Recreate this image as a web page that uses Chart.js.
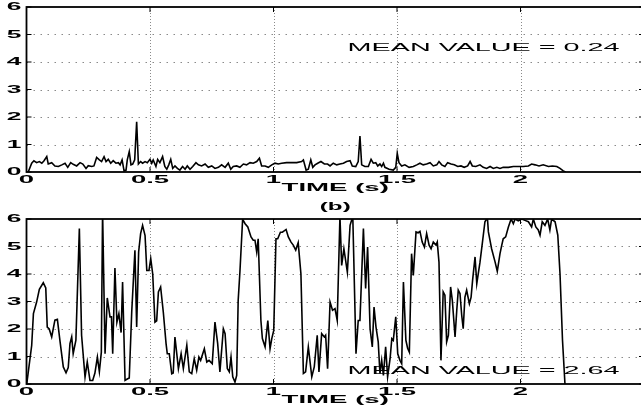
<!DOCTYPE html>
<html lang="en">
<head>
<meta charset="UTF-8">
<title>Time series (a) and (b)</title>
<script src="https://cdn.jsdelivr.net/npm/chart.js"></script>
<style>
  html, body { margin: 0; padding: 0; background: #fff; overflow: hidden; }
  #wrap { position: relative; width: 641px; height: 409px; overflow: hidden; }
  canvas { position: absolute; left: 0; }
</style>
</head>
<body>
<div id="wrap">
  <canvas id="chartA" width="645" height="198" style="top:0;width:645px;height:198px"></canvas>
  <canvas id="chartB" width="645" height="211" style="top:198px;width:645px;height:211px"></canvas>
</div>
<script>
// ---- data ----
const xTicks = [0, 0.5, 1, 1.5, 2];
const xTickLabels = ['0', '0.5', '1', '1.5', '2'];
const yTicks = [0, 1, 2, 3, 4, 5, 6];
const yTickLabels = ['0', '1', '2', '3', '4', '5', '6'];

// panel (a)
const timeA = [0.007,0.021,0.030,0.041,0.052,0.062,0.071,0.082,0.088,0.102,0.115,0.129,0.143,0.156,0.167,0.179,0.189,0.203,0.217,0.228,
  0.241,0.250,0.264,0.273,0.284,0.295,0.304,0.314,0.322,0.331,0.341,0.351,0.362,0.372,0.379,0.387,0.395,0.403,0.408,0.416,
  0.423,0.430,0.438,0.446,0.453,0.462,0.470,0.480,0.489,0.500,0.507,0.513,0.524,0.531,0.540,0.551,0.560,0.568,0.576,0.584,
  0.592,0.601,0.611,0.621,0.632,0.642,0.651,0.662,0.673,0.686,0.696,0.709,0.723,0.736,0.750,0.763,0.777,0.790,0.804,0.817,
  0.827,0.837,0.851,0.864,0.878,0.891,0.905,0.918,0.932,0.943,0.952,0.966,0.979,0.993,1.006,1.019,1.033,1.053,1.074,1.094,
  1.114,1.121,1.132,1.141,1.151,1.159,1.168,1.179,1.192,1.206,1.219,1.229,1.242,1.256,1.269,1.283,1.296,1.310,1.319,1.333,
  1.343,1.350,1.357,1.370,1.384,1.395,1.404,1.414,1.422,1.431,1.438,1.445,1.451,1.468,1.485,1.495,1.501,1.508,1.519,1.532,
  1.549,1.566,1.580,1.593,1.606,1.620,1.634,1.647,1.661,1.670,1.681,1.694,1.705,1.719,1.732,1.746,1.759,1.772,1.786,1.796,
  1.805,1.819,1.836,1.849,1.863,1.877,1.890,1.904,1.917,1.930,1.951,1.971,1.991,2.011,2.032,2.045,2.059,2.075,2.092,2.113,
  2.129,2.147,2.160,2.173,2.183];
const valueA = [0,0.32,0.41,0.34,0.38,0.32,0.41,0.56,0.29,0.34,0.22,0.20,0.26,0.32,0.17,0.34,0.28,0.22,0.34,0.29,
  0.13,0.23,0.20,0.22,0.53,0.44,0.38,0.56,0.38,0.46,0.32,0.41,0.32,0.34,0.26,0.44,0.04,0.07,0.44,0.74,
  0.26,0.29,0.44,1.83,0.29,0.38,0.32,0.38,0.34,0.46,0.32,0.44,0.20,0.46,0.34,0.56,0.20,0.10,0.26,0.46,
  0.13,0.22,0.13,0.07,0.20,0.10,0.22,0.10,0.20,0.34,0.26,0.22,0.29,0.17,0.22,0.13,0.17,0.26,0.17,0.32,
  0.10,0.20,0.22,0.17,0.29,0.26,0.34,0.32,0.38,0.50,0.22,0.22,0.17,0.26,0.32,0.29,0.32,0.34,0.34,0.34,
  0.38,0.44,0.07,0.10,0.44,0.17,0.26,0.32,0.38,0.29,0.29,0.22,0.32,0.26,0.29,0.32,0.38,0.41,0.22,0.20,
  0.38,1.31,0.26,0.20,0.20,0.46,0.32,0.34,0.22,0.29,0.20,0.32,0.17,0.10,0.07,0.17,0.68,0.34,0.22,0.26,
  0.17,0.20,0.26,0.32,0.26,0.29,0.34,0.22,0.26,0.38,0.26,0.20,0.34,0.29,0.26,0.20,0.22,0.17,0.22,0.38,
  0.22,0.20,0.26,0.17,0.13,0.20,0.13,0.17,0.13,0.17,0.17,0.20,0.20,0.20,0.22,0.29,0.26,0.22,0.26,0.20,
  0.22,0.20,0.13,0.04,0];

// panel (b)
const timeB = [0.001,0.021,0.028,0.041,0.052,0.068,0.078,0.084,0.092,0.102,0.115,0.125,0.136,0.149,0.160,0.169,0.176,0.183,0.189,0.200,
  0.214,0.223,0.237,0.246,0.257,0.268,0.277,0.287,0.295,0.303,0.308,0.318,0.327,0.338,0.344,0.349,0.358,0.366,0.374,0.383,
  0.389,0.399,0.408,0.416,0.426,0.439,0.446,0.454,0.462,0.470,0.480,0.487,0.496,0.503,0.511,0.520,0.527,0.534,0.543,0.554,
  0.565,0.570,0.578,0.588,0.594,0.601,0.615,0.626,0.635,0.649,0.659,0.669,0.679,0.689,0.698,0.705,0.720,0.730,0.739,0.752,
  0.763,0.774,0.783,0.797,0.804,0.813,0.821,0.828,0.835,0.844,0.851,0.857,0.864,0.875,0.885,0.896,0.909,0.918,0.925,0.932,
  0.938,0.949,0.955,0.966,0.977,0.986,0.993,1.001,1.010,1.017,1.028,1.036,1.051,1.060,1.071,1.080,1.090,1.100,1.111,1.121,
  1.130,1.141,1.155,1.165,1.177,1.184,1.195,1.206,1.211,1.219,1.229,1.239,1.249,1.258,1.269,1.276,1.285,1.299,1.310,1.321,
  1.334,1.343,1.350,1.364,1.373,1.381,1.391,1.400,1.407,1.415,1.424,1.431,1.438,1.445,1.454,1.462,1.472,1.479,1.485,1.495,
  1.503,1.512,1.519,1.526,1.536,1.543,1.550,1.559,1.566,1.577,1.586,1.593,1.602,1.611,1.620,1.630,1.638,1.647,1.658,1.663,
  1.670,1.678,1.687,1.694,1.701,1.708,1.717,1.724,1.735,1.742,1.748,1.755,1.762,1.768,1.775,1.782,1.793,1.800,1.806,1.816,
  1.823,1.836,1.847,1.856,1.866,1.870,1.883,1.897,1.906,1.917,1.924,1.930,1.940,1.951,1.962,1.971,1.978,1.991,2.005,2.018,
  2.032,2.045,2.052,2.062,2.072,2.079,2.088,2.099,2.110,2.119,2.126,2.140,2.151,2.160,2.170,2.180];
const valueB = [0,1.40,2.56,2.98,3.44,3.68,3.49,2.07,2.00,1.71,2.32,2.35,1.53,0.62,0.41,0.60,1.47,1.71,1.10,1.59,
  5.65,1.77,0.25,0.80,0.13,0.13,0.40,0.98,0.45,1.16,6.30,1.10,3.13,2.44,2.44,1.10,4.22,2.25,2.56,1.87,
  3.71,0.13,0.18,0.22,2.62,4.86,2.07,4.80,5.47,5.77,5.40,4.13,4.13,4.56,4.00,2.25,2.30,3.35,3.53,2.60,
  1.47,1.10,1.10,0.37,0.40,1.71,0.56,1.10,0.56,1.41,0.44,0.38,0.92,0.50,0.98,0.86,1.28,0.80,0.86,0.74,
  2.25,1.47,0.44,2.01,1.83,0.56,0.44,0.98,0.26,0.07,0.31,3.04,4.07,5.99,5.83,5.71,5.35,5.23,5.23,4.80,
  5.28,2.31,1.65,1.35,2.31,1.28,1.65,1.95,5.28,5.28,5.52,5.52,5.62,5.35,5.16,5.05,4.87,5.14,4.01,0.38,
  0.44,1.35,0.26,0.62,1.77,0.44,1.83,1.71,1.77,0.56,2.98,2.68,2.74,2.31,6.10,4.31,4.92,4.07,5.77,6.10,
  1.10,2.31,2.31,5.65,3.47,4.98,2.01,1.35,2.80,2.07,1.53,0.38,0.86,0.31,1.35,0.26,0.92,1.65,1.59,2.44,
  1.10,0.86,0.74,3.71,1.59,1.30,1.16,4.74,3.95,5.53,5.50,5.55,5.16,4.98,5.47,5.05,4.92,5.16,5.05,5.16,
  4.43,0.86,3.35,3.23,1.53,1.77,3.53,3.04,1.71,2.68,3.41,3.29,2.50,2.01,3.16,3.41,2.92,3.16,3.77,4.62,
  3.65,4.43,5.23,5.90,6.05,5.53,4.92,4.44,4.10,4.74,5.04,5.28,5.35,5.71,6.00,5.83,6.00,5.93,6.00,5.95,
  5.90,5.71,6.00,5.71,5.60,5.41,5.90,5.77,6.00,5.60,6.00,5.90,5.41,4.00,1.60,0];

// ---- drawing helpers ----
// text in the original is strongly stretched sideways, so draw it with a horizontal scale
function stretchText(ctx, text, x, y, font, sx, align) {
  ctx.save();
  ctx.font = font;
  ctx.textBaseline = 'middle';
  ctx.textAlign = 'left';
  const w = ctx.measureText(text).width * sx;
  let x0 = x;
  if (align === 'center') x0 = x - w / 2;
  else if (align === 'right') x0 = x - w;
  ctx.translate(x0, y);
  ctx.scale(sx, 1);
  ctx.fillStyle = '#000';
  ctx.fillText(text, 0, 0);
  ctx.restore();
}

const matlabAxes = {
  id: 'matlabAxes',
  beforeDatasetsDraw(chart) {
    const { ctx, chartArea: a, scales: { x, y } } = chart;
    ctx.save();
    ctx.strokeStyle = '#8a8a8a';
    ctx.lineWidth = 1;
    // horizontal grid
    ctx.setLineDash([1.5, 5.5]);
    yTicks.forEach(v => {
      if (v === 0 || v === 6) return;
      const py = Math.round(y.getPixelForValue(v)) + 0.5;
      ctx.beginPath(); ctx.moveTo(a.left, py); ctx.lineTo(a.right, py); ctx.stroke();
    });
    // vertical grid
    ctx.setLineDash([1, 2]);
    xTicks.forEach(v => {
      if (v === 0) return;
      const px = Math.round(x.getPixelForValue(v)) + 0.5;
      ctx.beginPath(); ctx.moveTo(px, a.top); ctx.lineTo(px, a.bottom); ctx.stroke();
    });
    ctx.restore();
  },
  afterDatasetsDraw(chart, args, opts) {
    const { ctx, chartArea: a, scales: { x, y } } = chart;
    ctx.save();
    ctx.strokeStyle = '#000';
    ctx.lineWidth = 1.8;
    ctx.strokeRect(a.left, a.top, a.right - a.left, a.bottom - a.top);
    // inward tick marks on every side
    ctx.lineWidth = 1;
    xTicks.forEach(v => {
      const px = x.getPixelForValue(v);
      ctx.beginPath();
      ctx.moveTo(px, a.bottom); ctx.lineTo(px, a.bottom - 5);
      ctx.moveTo(px, a.top); ctx.lineTo(px, a.top + 5);
      ctx.stroke();
    });
    yTicks.forEach(v => {
      const py = y.getPixelForValue(v);
      ctx.beginPath();
      ctx.moveTo(a.left, py); ctx.lineTo(a.left + 5, py);
      ctx.moveTo(a.right, py); ctx.lineTo(a.right - 5, py);
      ctx.stroke();
    });
    ctx.restore();

    const tickFont = 'bold 11px "Liberation Sans", Arial, sans-serif';
    xTicks.forEach((v, i) => {
      stretchText(ctx, xTickLabels[i], x.getPixelForValue(v), a.bottom + 8, tickFont, 2.5, 'center');
    });
    yTicks.forEach((v, i) => {
      stretchText(ctx, yTickLabels[i], a.left - 5, y.getPixelForValue(v), tickFont, 2.4, 'right');
    });
    const midX = (a.left + a.right) / 2;
    stretchText(ctx, 'TIME (s)', midX, a.bottom + 16, 'bold 11.5px "Liberation Sans", Arial, sans-serif', 2.4, 'center');
    stretchText(ctx, opts.title, midX, a.top - 12, 'bold 11px "Liberation Sans", Arial, sans-serif', 2.2, 'center');
    stretchText(ctx, opts.note, x.getPixelForValue(opts.noteX), y.getPixelForValue(opts.noteY),
      '11.5px "Liberation Sans", Arial, sans-serif', 2.5, 'left');
  }
};

function makePanel(canvasId, times, values, padding, extra) {
  return new Chart(document.getElementById(canvasId), {
    type: 'line',
    data: {
      datasets: [{
        data: times.map((t, i) => ({ x: t, y: values[i] })),
        borderColor: '#000',
        borderWidth: 1.6,
        pointRadius: 0,
        tension: 0,
        fill: false
      }]
    },
    options: {
      responsive: false,
      animation: false,
      events: [],
      layout: { padding: padding },
      plugins: { legend: { display: false }, tooltip: { enabled: false }, matlabAxes: extra },
      scales: {
        x: { type: 'linear', min: 0, max: 2.5, display: false },
        y: { type: 'linear', min: 0, max: 6, display: false }
      }
    },
    plugins: [matlabAxes]
  });
}

const chartA = makePanel('chartA', timeA, valueA, { left: 26.5, right: 1, top: 7, bottom: 26 },
  { title: '(a)', note: 'MEAN VALUE = 0.24', noteX: 1.3, noteY: 4.53 });
const chartB = makePanel('chartB', timeB, valueB, { left: 26.5, right: 1, top: 21, bottom: 25 },
  { title: '(b)', note: 'MEAN VALUE = 2.64', noteX: 1.3, noteY: 0.49 });
</script>
</body>
</html>
